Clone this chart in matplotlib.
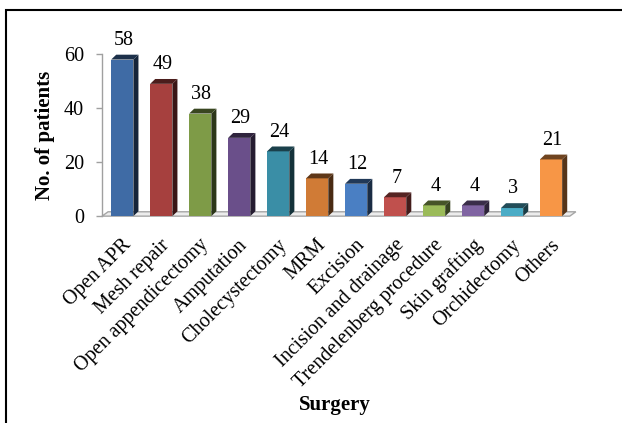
import matplotlib
matplotlib.use("Agg")
import matplotlib.pyplot as plt
from matplotlib.patches import Polygon, Rectangle
from matplotlib.colors import to_rgb
import matplotlib.transforms as mtransforms

categories = ["Open APR", "Mesh repair", "Open appendicectomy", "Amputation",
              "Cholecystectomy", "MRM", "Excision", "Incision and drainage",
              "Trendelenberg procedure", "Skin grafting", "Orchidectomy", "Others"]
values = [58, 49, 38, 29, 24, 14, 12, 7, 4, 4, 3, 21]
bar_colors = ["#3F6BA5", "#A6403E", "#7E9B47", "#6A4F8A", "#3A8EA6", "#D07B36",
              "#4A7FC3", "#C0504D", "#9BBB59", "#8064A2", "#4BACC6", "#F79646"]
y_ticks = [0, 20, 40, 60]

plt.rcParams['font.family'] = ['Liberation Serif', 'DejaVu Serif']

fig = plt.figure(figsize=(6.22, 4.23), dpi=100)
ax = fig.add_axes([0.164, 0.489, 0.752, 0.383])

W = 0.57     # front face width (category units)
DX = 0.13    # depth offset x
DY = 1.8     # depth offset y


def shade(c, f):
    r, g, b = to_rgb(c)
    return (r * f, g * f, b * f)


# floor
floor = Polygon([(-0.5, 0), (11.5, 0), (11.5 + DX * 1.2, DY * 0.9), (-0.5 + DX * 1.2, DY * 0.9)],
                closed=True, facecolor="#ececec", edgecolor="#a6a6a6", lw=1.0, zorder=1,
                clip_on=False)
ax.add_patch(floor)

for i, (v, c) in enumerate(zip(values, bar_colors)):
    x0 = i - W / 2 + 0.02
    x1 = x0 + W
    front = Rectangle((x0, 0), W, v, facecolor=c, edgecolor="none", zorder=3)
    side = Polygon([(x1, 0), (x1 + DX, DY), (x1 + DX, v + DY), (x1, v)], closed=True,
                   facecolor=shade(c, 0.35), edgecolor="none", zorder=3)
    top = Polygon([(x0, v), (x1, v), (x1 + DX, v + DY), (x0 + DX, v + DY)], closed=True,
                  facecolor=shade(c, 0.45), edgecolor="none", zorder=3)
    for p in (front, side, top):
        p.set_clip_on(False)
        ax.add_patch(p)
    ax.annotate(str(v), xy=(i + 0.05, v), xytext=(0, 7), textcoords="offset points",
                ha="center", va="bottom", fontsize=14.5, color="black", zorder=5)

ax.set_xlim(-0.5, 11.5)
ax.set_ylim(0, 60)
ax.set_yticks(y_ticks)
ax.set_yticklabels([str(t) for t in y_ticks], fontsize=14.5)
ax.set_xticks(range(len(categories)))
ax.set_xticklabels(categories, rotation=45, ha="right", rotation_mode="anchor", fontsize=14.5)
offset = mtransforms.ScaledTranslation(-3 / 100, 0, fig.dpi_scale_trans)
for lab in ax.get_xticklabels():
    lab.set_transform(lab.get_transform() + offset)

ax.tick_params(axis="x", length=0, pad=14)
ax.tick_params(axis="y", length=4, width=1, color="#a0a0a0", pad=9)
for s in ["top", "right", "bottom"]:
    ax.spines[s].set_visible(False)
ax.spines["left"].set_color("#a0a0a0")
ax.spines["left"].set_linewidth(1.0)
ax.set_facecolor("none")

ax.set_ylabel("No. of patients", fontsize=15, fontweight="bold", labelpad=6)
fig.text(0.539, 0.043, "Surgery", ha="center", va="center", fontsize=15, fontweight="bold")

border = Rectangle((6 / 622, -0.05), 1.2, 1 - 10 / 423 + 0.05, transform=fig.transFigure,
                   fill=False, edgecolor="black", lw=1.5, clip_on=False)
fig.patches.append(border)

fig.savefig("out.png", dpi=100)
